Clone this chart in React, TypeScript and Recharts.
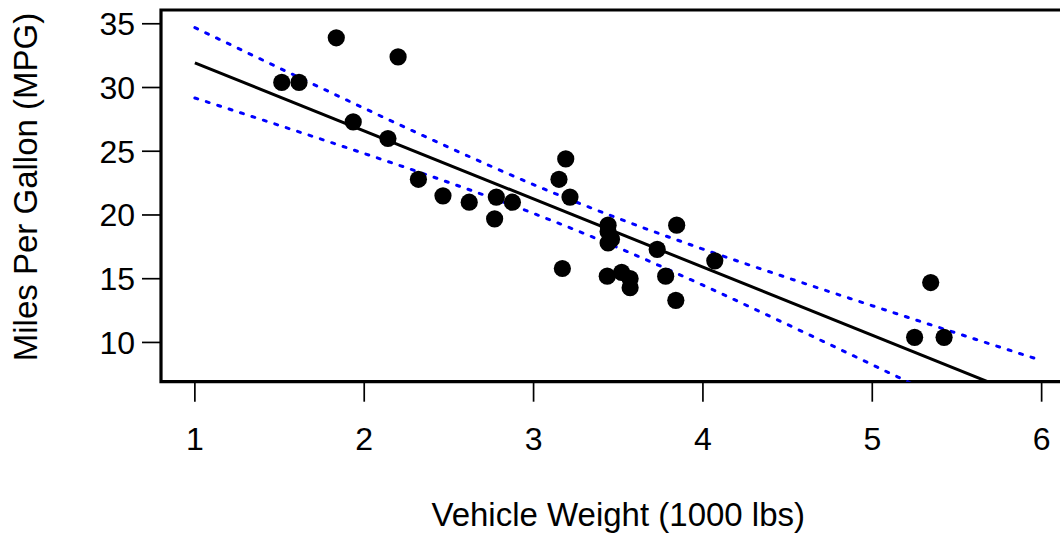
import React from 'react';
import {
  ComposedChart,
  Line,
  Scatter,
  XAxis,
  YAxis,
  ReferenceArea,
} from 'recharts';

// Vehicle weight (1000 lbs) and miles per gallon for each car
const weights = [
  2.62, 2.875, 2.32, 3.215, 3.44, 3.46, 3.57, 3.19, 3.15, 3.44, 3.44, 4.07,
  3.73, 3.78, 5.25, 5.424, 5.345, 2.2, 1.615, 1.835, 2.465, 3.52, 3.435, 3.84,
  3.845, 1.935, 2.14, 1.513, 3.17, 2.77, 3.57, 2.78,
];
const mpgValues = [
  21.0, 21.0, 22.8, 21.4, 18.7, 18.1, 14.3, 24.4, 22.8, 19.2, 17.8, 16.4,
  17.3, 15.2, 10.4, 10.4, 14.7, 32.4, 30.4, 33.9, 21.5, 15.5, 15.2, 13.3,
  19.2, 27.3, 26.0, 30.4, 15.8, 19.7, 15.0, 21.4,
];

// Fitted line (ends)
const fitX = [1, 6];
const fitY = [31.94, 5.22];

// Confidence band
const bandX = [1, 1.5, 2, 2.5, 3, 3.5, 4, 4.5, 5, 5.5, 6];
const bandUpper = [34.7, 31.52, 28.37, 25.3, 22.38, 19.73, 17.32, 15.07, 12.88, 10.72, 8.58];
const bandLower = [29.18, 27.02, 24.82, 22.55, 20.12, 17.43, 14.49, 11.4, 8.25, 5.06, 1.86];

const xTicks = [1, 2, 3, 4, 5, 6];
const yTicks = [10, 15, 20, 25, 30, 35];
const xDomain = [0.8, 6.2];
const yDomain = [6.92, 36.08];

const carData = weights.map((w, i) => ({ x: w, y: mpgValues[i] }));
const fitData = fitX.map((x, i) => ({ x, y: fitY[i] }));
const upperData = bandX.map((x, i) => ({ x, y: bandUpper[i] }));
const lowerData = bandX.map((x, i) => ({ x, y: bandLower[i] }));

const FONT = '"Liberation Sans", Arial, Helvetica, sans-serif';
const tickStyle = { fill: '#000', fontSize: 32, fontFamily: FONT };

const Dot = (props: any) => (
  <circle cx={props.cx} cy={props.cy} r={8.6} fill="#000" />
);

const YTitle = () => (
  <text
    x={37}
    y={187}
    transform="rotate(-90, 37, 187)"
    textAnchor="middle"
    fill="#000"
    fontSize={33}
    fontFamily={FONT}
  >
    Miles Per Gallon (MPG)
  </text>
);

export default function App() {
  return (
    <div
      style={{
        position: 'absolute',
        left: 0,
        top: 0,
        width: 1060,
        height: 534,
        overflow: 'hidden',
        background: '#fff',
      }}
    >
      <ComposedChart
        width={1080}
        height={534}
        margin={{ top: 10, right: 4.5, bottom: 0, left: 0 }}
      >
        <XAxis
          type="number"
          dataKey="x"
          domain={xDomain}
          allowDataOverflow
          ticks={xTicks}
          interval={0}
          axisLine={false}
          tickSize={20}
          tickMargin={26}
          tickLine={{ stroke: '#000', strokeWidth: 1.7 }}
          tick={tickStyle}
          height={152.3}
          label={{
            value: 'Vehicle Weight (1000 lbs)',
            position: 'insideBottom',
            offset: 8,
            fill: '#000',
            fontSize: 33,
            fontFamily: FONT,
          }}
        />
        <YAxis
          type="number"
          dataKey="y"
          domain={yDomain}
          allowDataOverflow
          ticks={yTicks}
          interval={0}
          axisLine={false}
          tickSize={19}
          tickMargin={7}
          tickLine={{ stroke: '#000', strokeWidth: 1.7 }}
          tick={tickStyle}
          width={161}
          label={() => <YTitle />}
        />
        <Line
          data={upperData}
          dataKey="y"
          type="monotone"
          stroke="#0000ff"
          strokeWidth={3}
          strokeDasharray="3 9"
          strokeLinecap="round"
          dot={false}
          activeDot={false}
          isAnimationActive={false}
        />
        <Line
          data={lowerData}
          dataKey="y"
          type="monotone"
          stroke="#0000ff"
          strokeWidth={3}
          strokeDasharray="3 9"
          strokeLinecap="round"
          dot={false}
          activeDot={false}
          isAnimationActive={false}
        />
        <Line
          data={fitData}
          dataKey="y"
          type="linear"
          stroke="#000"
          strokeWidth={3}
          dot={false}
          activeDot={false}
          isAnimationActive={false}
        />
        <Scatter
          data={carData}
          dataKey="y"
          shape={Dot}
          isAnimationActive={false}
        />
        <ReferenceArea
          x1={xDomain[0]}
          x2={xDomain[1]}
          y1={yDomain[0]}
          y2={yDomain[1]}
          fill="none"
          stroke="#000"
          strokeWidth={3.2}
          ifOverflow="visible"
        />
      </ComposedChart>
    </div>
  );
}
